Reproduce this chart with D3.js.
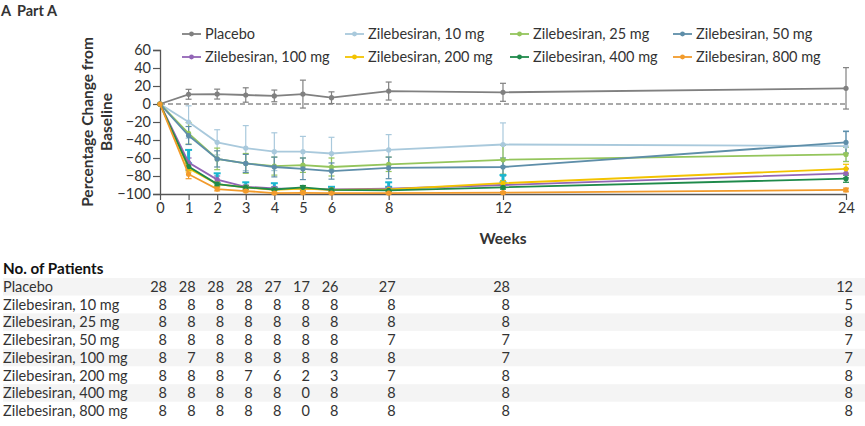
<!DOCTYPE html>
<html><head><meta charset="utf-8">
<script src="https://cdn.jsdelivr.net/npm/d3@7"></script>
<style>body{margin:0;background:#fff}svg{display:block;font-family:Lato,"Open Sans",sans-serif}</style>
</head><body><svg id="c" width="865" height="426"></svg>
<script>
const weeks = [0,1,2,3,4,5,6,8,12,24];
const seriesNames = ["Placebo","Zilebesiran, 10 mg","Zilebesiran, 25 mg","Zilebesiran, 50 mg","Zilebesiran, 100 mg","Zilebesiran, 200 mg","Zilebesiran, 400 mg","Zilebesiran, 800 mg"];
const seriesColors = ["#808080","#a9c9dc","#94c55c","#5e8ea9","#9265b6","#f3c300","#1f8a4b","#f29b2c"];
const placebo = [0,10.8,11,10,9,11,7,14.4,13,17.4];
const dose10  = [0,-20,-42.6,-49,-53,-53,-55,-51,-45,-46.7];
const dose25  = [0,-32.6,-61,-66,-69,-68,-70,-67,-62,-56];
const dose50  = [0,-35,-61,-66,-70,-72,-74.5,-71,-70,-42.6];
const dose100 = [0,-65,-84,-92,-93.7,-94,-95,-94,-90,-77];
const dose200 = [0,-71.5,-89,-92.6,-95.5,-94,-95.5,-95,-88,-72];
const dose400 = [0,-69.6,-89,-92.6,-95,-92.6,-95.5,-96,-92.6,-83];
const dose800 = [0,-78,-94.5,-96.7,-99,-98.7,-99,-99,-98.5,-95.5];
const err = [
  [0,5.5,5.5,8,6.5,15.5,6.5,10,10,23],
  [0,18,14,25,21,17,18,17,24,17],
  [0,12,12,11,10,8,10,8,16,8],
  [0,10,9,10,11,12,9,12,10,12],
  [0,5,4,2,2,2,2,2,3,5],
  [0,4,3,2,3,3,2,2,3,5],
  [0,4,2,2,1,2,1,1,2,4],
  [0,5,2,1,1,1,1,1,1,2]
];
const cyanWeeks = [1,2,3,4,6,8,12];
const cyanLo = [-66,-88,-92,-93,-95,-92,-87];
const cyanHi = [-51,-77,-87,-88,-92,-87,-79];
const yTicks = [60,40,20,0,-20,-40,-60,-80,-100];
const tableRows = seriesNames;
const patients = [
  [28,28,28,28,27,17,26,27,28,12],
  [8,8,8,8,8,8,8,8,8,5],
  [8,8,8,8,8,8,8,8,8,8],
  [8,8,8,8,8,8,8,7,7,7],
  [8,7,8,8,8,8,8,8,7,7],
  [8,8,8,7,6,2,3,7,8,8],
  [8,8,8,8,8,0,8,8,8,8],
  [8,8,8,8,8,0,8,8,8,8]
];
const values = [placebo,dose10,dose25,dose50,dose100,dose200,dose400,dose800];

const svg = d3.select("#c");
const x = d3.scaleLinear().domain([0,24]).range([160,846]);
const y = d3.scaleLinear().domain([-100,60]).range([194,50]);
const txt = "#333";
const axc = "#555";
const fs = 14.5;

// title
svg.append("text").attr("x",1).attr("y",16).attr("font-size",14.5).attr("font-weight","bold").attr("fill",txt).text("A");
svg.append("text").attr("x",17).attr("y",16).attr("font-size",14.5).attr("font-weight","bold").attr("fill",txt).text("Part A");

// y axis
const ya = svg.append("g").attr("transform","translate(160,0)")
  .call(d3.axisLeft(y).tickValues(yTicks).tickSize(7).tickPadding(2).tickFormat(d=>d<0?"\u2212"+Math.abs(d):d));
ya.select(".domain").attr("stroke",axc).attr("stroke-width",1.3);
ya.selectAll(".tick line").attr("stroke",axc).attr("stroke-width",1.2);
ya.selectAll("text").attr("font-size",fs).attr("fill",txt).attr("font-family","Lato");

// x axis
const xa = svg.append("g").attr("transform","translate(0,194)")
  .call(d3.axisBottom(x).tickValues(weeks).tickSize(6).tickPadding(3).tickSizeOuter(0));
xa.select(".domain").attr("stroke",axc).attr("stroke-width",1.3);
xa.selectAll(".tick line").attr("stroke",axc).attr("stroke-width",1.2);
xa.selectAll("text").attr("font-size",fs).attr("fill",txt).attr("font-family","Lato");

svg.append("text").attr("x",503).attr("y",244).attr("text-anchor","middle").attr("font-size",15.5).attr("font-weight","bold").attr("fill",txt).text("Weeks");

const yt = svg.append("text").attr("transform","translate(0,122) rotate(-90)").attr("text-anchor","middle").attr("font-size",15.5).attr("font-weight","bold").attr("fill",txt);
yt.append("tspan").attr("x",0).attr("y",93).text("Percentage Change from");
yt.append("tspan").attr("x",0).attr("y",112).text("Baseline");

// zero dashed line
svg.append("line").attr("x1",x(0)).attr("x2",x(24)).attr("y1",y(0)).attr("y2",y(0))
  .attr("stroke","#555").attr("stroke-width",1.2).attr("stroke-dasharray","5,3");

const line = d3.line().x((d,i)=>x(weeks[i])).y(d=>y(d));

// error bars
values.forEach((vals,s)=>{
  const g = svg.append("g").attr("stroke",seriesColors[s]).attr("stroke-width",1.2);
  vals.forEach((v,i)=>{
    const e = err[s][i]; if(!e) return;
    const cx = x(weeks[i]);
    g.append("line").attr("x1",cx).attr("x2",cx).attr("y1",y(v+e)).attr("y2",y(Math.max(-100,v-e)));
    g.append("line").attr("x1",cx-3).attr("x2",cx+3).attr("y1",y(v+e)).attr("y2",y(v+e));
    if(v-e>=-100) g.append("line").attr("x1",cx-3).attr("x2",cx+3).attr("y1",y(v-e)).attr("y2",y(v-e));
  });
});
// cyan error bars
const cg = svg.append("g").attr("stroke","#19b6cf");
cyanWeeks.forEach((w,i)=>{
  const cx = x(w);
  cg.append("line").attr("x1",cx).attr("x2",cx).attr("y1",y(cyanHi[i])).attr("y2",y(cyanLo[i])).attr("stroke-width",3);
  cg.append("line").attr("x1",cx-3.5).attr("x2",cx+3.5).attr("y1",y(cyanHi[i])).attr("y2",y(cyanHi[i])).attr("stroke-width",2);
  cg.append("line").attr("x1",cx-3.5).attr("x2",cx+3.5).attr("y1",y(cyanLo[i])).attr("y2",y(cyanLo[i])).attr("stroke-width",2);
});

// lines and markers
values.forEach((vals,s)=>{
  svg.append("path").attr("d",line(vals)).attr("fill","none").attr("stroke",seriesColors[s]).attr("stroke-width",1.8);
  svg.append("g").selectAll("circle").data(vals).join("circle")
    .attr("cx",(d,i)=>x(weeks[i])).attr("cy",d=>y(d)).attr("r",2.6).attr("fill",seriesColors[s]);
});

// legend
const legX = [182,345,510,673];
const legY = [34,57];
seriesNames.forEach((name,s)=>{
  const col = s%4, row = Math.floor(s/4);
  const lx = legX[col], ly = legY[row];
  const g = svg.append("g");
  g.append("line").attr("x1",lx).attr("x2",lx+19).attr("y1",ly).attr("y2",ly).attr("stroke",seriesColors[s]).attr("stroke-width",1.8);
  g.append("circle").attr("cx",lx+9.5).attr("cy",ly).attr("r",2.4).attr("fill",seriesColors[s]);
  g.append("text").attr("x",lx+23).attr("y",ly+5).attr("font-size",fs).attr("fill",txt).text(name);
});

// table
svg.append("text").attr("x",3).attr("y",274).attr("font-size",15.2).attr("font-weight","bold").attr("fill","#111").text("No. of Patients");
const rowY0 = 287, rowH = 17.7;
tableRows.forEach((name,r)=>{
  const cy = rowY0 + r*rowH;
  if(r%2===0) svg.append("rect").attr("x",3).attr("y",cy-9).attr("width",862).attr("height",17.5).attr("fill","#f4f4f4");
  svg.append("text").attr("x",3).attr("y",cy+5).attr("font-size",fs).attr("fill",txt).text(name);
  patients[r].forEach((n,i)=>{
    svg.append("text").attr("x",x(weeks[i])+7).attr("y",cy+5).attr("text-anchor","end").attr("font-size",fs).attr("fill",txt).text(n);
  });
});
</script></body></html>
